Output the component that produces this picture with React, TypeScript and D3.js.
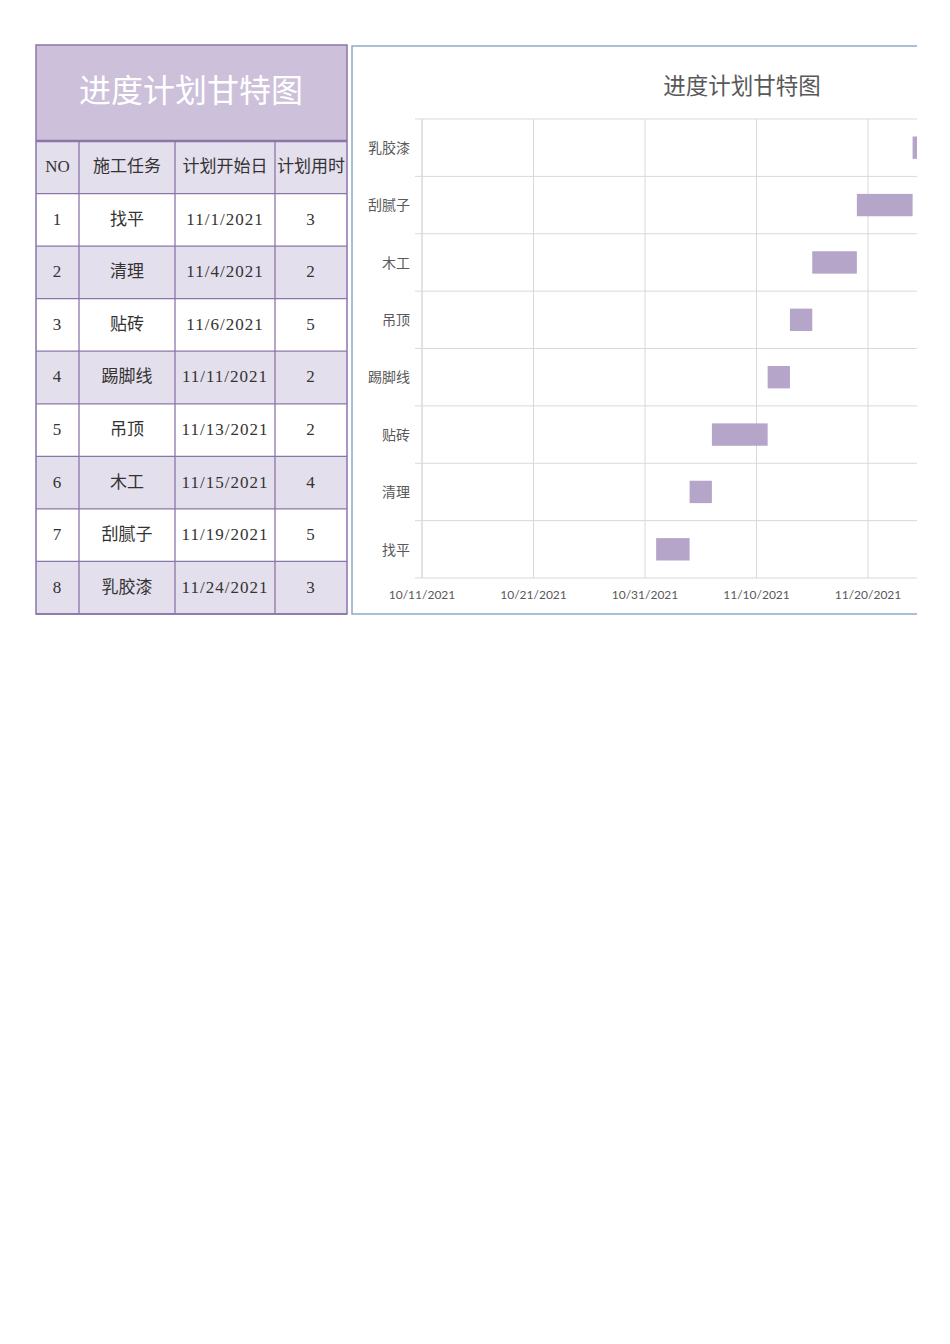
import React from 'react';
import * as d3 from 'd3';

// table / chart data
const taskNames = ['找平', '清理', '贴砖', '踢脚线', '吊顶', '木工', '刮腻子', '乳胶漆'];
const startDates = ['11/1/2021', '11/4/2021', '11/6/2021', '11/11/2021', '11/13/2021', '11/15/2021', '11/19/2021', '11/24/2021'];
const durations = [3, 2, 5, 2, 2, 4, 5, 3];
const headers = ['NO', '施工任务', '计划开始日', '计划用时'];
const axisStart = '10/11/2021';
const axisEnd = '11/30/2021';

const parse = d3.utcParse('%m/%d/%Y');
const fmt = d3.utcFormat('%-m/%-d/%Y');

const SERIF = '"Liberation Serif", "DejaVu Serif", "Noto Sans CJK SC", serif';
const SANS = 'Lato, "Noto Sans CJK SC", sans-serif';
const PAGE_RIGHT = 917;

const colX = [36, 79, 175, 275, 347];
const lineColor = '#8B76A9';

const Table: React.FC = () => {
   const rowY = d3.scaleLinear().domain([0, 9]).range([141, 614]);
   const rows = taskNames.map((t, i) => [String(i + 1), t, startDates[i], String(durations[i])]);
   return (
      <g>
         <rect x={36} y={45} width={311} height={96} fill="#CCC0DA" />
         <text x={191} y={95} textAnchor="middle" dominantBaseline="middle" fill="#fff"
            fontFamily={SERIF} fontSize={32}>进度计划甘特图</text>
         {[headers, ...rows].map((r, ri) => (
            <g key={ri}>
               <rect x={36} y={rowY(ri)} width={311} height={rowY(ri + 1) - rowY(ri)}
                  fill={ri % 2 === 0 ? '#E4DFEC' : '#ffffff'} />
               {r.map((c, ci) => (
                  <text key={ci} x={(colX[ci] + colX[ci + 1]) / 2} y={(rowY(ri) + rowY(ri + 1)) / 2 + 1}
                     textAnchor="middle" dominantBaseline="middle" fill="#333"
                     letterSpacing={ri > 0 && ci !== 1 ? 1 : 0}
                     fontFamily={SERIF} fontSize={ri === 0 ? 17 : 17}>{c}</text>
               ))}
            </g>
         ))}
         {d3.range(1, 10).map((i) => (
            <line key={i} x1={36} x2={347} y1={rowY(i)} y2={rowY(i)} stroke={lineColor} strokeWidth={1.3} />
         ))}
         <line x1={36} x2={347} y1={141} y2={141} stroke={lineColor} strokeWidth={2.5} />
         {colX.slice(1, 4).map((x) => (
            <line key={x} x1={x} x2={x} y1={141} y2={614} stroke={lineColor} strokeWidth={1.3} />
         ))}
         <rect x={36} y={45} width={311} height={569} fill="none" stroke={lineColor} strokeWidth={1.5} />
      </g>
   );
};

const Gantt: React.FC = () => {
   const x = d3.scaleUtc().domain([parse(axisStart)!, parse(axisEnd)!]).range([422, 422 + 557.5]);
   const y = d3.scaleBand<string>().domain([...taskNames].reverse()).range([119, 578]);
   const ticks = d3.utcDay.range(parse(axisStart)!, d3.utcDay.offset(parse(axisEnd)!, 1), 10);
   const barH = y.bandwidth() * 0.39;
   return (
      <g>
         <defs>
            <clipPath id="pageClip">
               <rect x={0} y={0} width={PAGE_RIGHT} height={1344} />
            </clipPath>
         </defs>
         <g clipPath="url(#pageClip)">
            <rect x={352} y={46} width={640} height={568} fill="#fff" stroke="#8EA9C8" strokeWidth={1.5} />
            <text x={742} y={88} textAnchor="middle" dominantBaseline="middle" fill="#595959"
               fontFamily='"Noto Sans CJK SC", sans-serif' fontSize={22.5}>进度计划甘特图</text>
            {y.domain().map((d) => (
               <line key={d} x1={415} x2={990} y1={y(d)!} y2={y(d)!} stroke="#D9D9D9" strokeWidth={1} />
            ))}
            <line x1={415} x2={990} y1={578} y2={578} stroke="#D9D9D9" strokeWidth={1.2} />
            {ticks.map((t, i) => (
               <line key={i} x1={x(t)} x2={x(t)} y1={119} y2={578} stroke="#D9D9D9"
                  strokeWidth={i === 0 ? 1.5 : 1} />
            ))}
            {taskNames.map((t, i) => {
               const s = parse(startDates[i])!;
               return (
                  <rect key={t} x={x(s)} width={x(d3.utcDay.offset(s, durations[i])) - x(s)}
                     y={y(t)! + (y.bandwidth() - barH) / 2} height={barH} fill="#B4A5C9" />
               );
            })}
            {y.domain().map((d) => (
               <text key={d} x={410} y={y(d)! + y.bandwidth() / 2 + 1.5} textAnchor="end" dominantBaseline="middle"
                  fill="#595959" fontFamily='"Noto Sans CJK SC", sans-serif' fontSize={14}>{d}</text>
            ))}
            {ticks.filter((t) => x(t) + 40 < PAGE_RIGHT).map((t, i) => (
               <text key={i} x={x(t)} y={596} textAnchor="middle" dominantBaseline="middle"
                  fill="#595959" fontFamily={SANS} fontSize={12}>{fmt(t)}</text>
            ))}
         </g>
      </g>
   );
};

export default function App() {
   return (
      <svg width={950} height={1344} style={{ position: 'absolute', left: 0, top: 0, background: '#fff' }}>
         <rect width={950} height={1344} fill="#fff" />
         <Table />
         <Gantt />
      </svg>
   );
}
